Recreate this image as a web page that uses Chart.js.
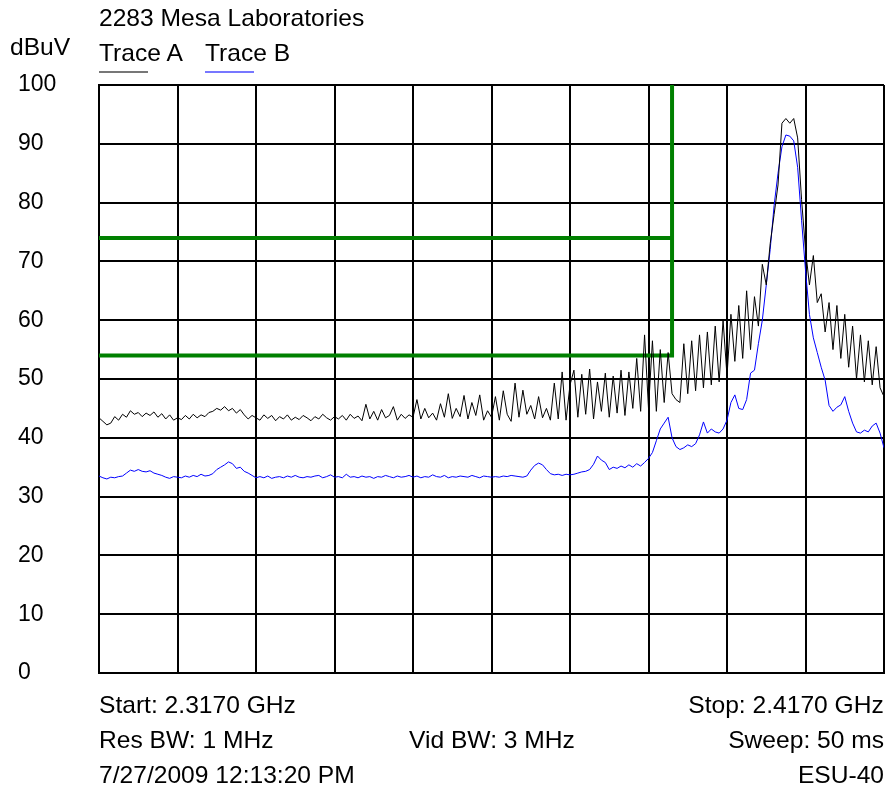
<!DOCTYPE html>
<html>
<head>
<meta charset="utf-8">
<script src="https://cdn.jsdelivr.net/npm/chart.js@4/dist/chart.umd.min.js"></script>
<style>
  html, body { margin: 0; padding: 0; background: #fff; }
  #wrap { position: relative; width: 886px; height: 787px; }
  #wrap canvas { position: absolute; left: 0; top: 0; }
  .txt { position: absolute; font: 24px "Liberation Sans", Arial, sans-serif; line-height: 1; color: #000; white-space: nowrap;
         transform: scaleX(1.025); transform-origin: left top; }
  .r { text-align: right; right: 2px; transform-origin: right top; }
  .uline { position: absolute; height: 2px; top: 71px; width: 49px; }
</style>
</head>
<body>
<div id="wrap">
  <canvas id="spectrum" width="886" height="787"></canvas>
  <div class="txt" style="left:99px; top:6px">2283 Mesa Laboratories</div>
  <div class="txt" style="left:10px; top:35px">dBuV</div>
  <div class="txt" style="left:99px; top:41px">Trace A</div>
  <div class="uline" style="left:99px; background:#777"></div>
  <div class="txt" style="left:205px; top:41px">Trace B</div>
  <div class="uline" style="left:205px; background:#7777ff"></div>
  <div class="txt" style="left:99px; top:693px">Start: 2.3170 GHz</div>
  <div class="txt r" style="top:693px">Stop: 2.4170 GHz</div>
  <div class="txt" style="left:99px; top:728px">Res BW: 1 MHz</div>
  <div class="txt" style="left:409px; top:728px">Vid BW: 3 MHz</div>
  <div class="txt r" style="top:728px">Sweep: 50 ms</div>
  <div class="txt" style="left:99px; top:763px">7/27/2009 12:13:20 PM</div>
  <div class="txt r" style="top:763px">ESU-40</div>
</div>
<script>
// sweep 2317 .. 2417 MHz, one reading every 0.5 MHz
const startMHz = 2317;
const stopMHz = 2417;
const stepMHz = 0.5;

// dBuV readings
const traceA = [
  43.4, 42.8, 42.2, 42.5, 43.6, 43.0, 44.0, 43.5, 44.6, 44.0,
  44.3, 43.6, 44.2, 43.8, 44.4, 43.5, 44.1, 43.2, 43.9, 43.0,
  43.4, 43.1, 43.8, 43.2, 44.0, 43.4, 43.9, 43.6, 44.3, 44.5,
  45.0, 44.7, 45.3, 44.6, 45.0, 44.2, 44.8, 43.9, 43.2, 43.8,
  43.4, 43.0, 43.9, 43.3, 43.8, 42.9, 43.6, 43.2, 43.9, 43.0,
  43.5, 43.1, 43.8, 43.4, 42.9, 43.6, 43.2, 44.0, 43.4, 43.0,
  43.6, 43.2, 43.8, 43.0, 44.0, 43.3, 43.7, 42.9, 45.7, 43.2,
  44.5, 43.0, 44.8, 43.4, 43.8, 45.3, 43.0, 44.0, 43.3, 43.9,
  43.5, 46.5, 43.2, 45.0, 43.4, 44.2, 43.0, 45.8, 43.5, 47.5,
  43.3, 45.0, 43.6, 47.2, 43.2, 46.0, 43.8, 47.3, 43.0, 44.6,
  43.5, 47.0, 43.0, 48.0, 44.0, 42.8, 49.3, 43.5, 48.1, 44.0,
  45.5, 43.2, 47.0, 43.4, 45.0, 43.0, 49.3, 43.2, 51.2, 43.0,
  49.0, 51.5, 43.5, 50.8, 44.0, 51.7, 43.2, 49.5, 44.5, 51.0,
  43.5, 50.5, 44.2, 51.5, 43.8, 51.2, 45.0, 53.5, 44.5, 57.5,
  45.0, 56.5, 44.5, 55.0, 46.0, 54.5, 47.5, 46.5, 46.0, 56.0,
  47.5, 56.5, 48.0, 57.5, 48.5, 58.0, 49.0, 59.0, 49.5, 60.0,
  50.5, 61.0, 53.0, 62.5, 53.5, 65.0, 55.0, 64.0, 59.0, 69.5,
  66.0, 73.0, 78.0, 83.0, 93.5, 94.3, 93.5, 94.3, 91.0, 80.5,
  72.0, 66.0, 71.0, 63.0, 64.5, 58.0, 63.0, 55.0, 62.5, 53.5,
  61.0, 52.0, 59.0, 50.0, 57.5, 49.5, 56.5, 49.0, 55.5, 48.5,
  47.0
];

const traceB = [
  33.5, 33.2, 33.0, 33.3, 33.2, 33.4, 33.5, 34.0, 34.5, 34.3,
  34.6, 34.3, 34.2, 34.4, 34.0, 33.8, 33.6, 33.3, 33.1, 33.4,
  33.3, 33.2, 33.5, 33.3, 33.6, 33.4, 33.8, 33.5, 33.6, 33.9,
  34.6, 35.0, 35.4, 35.9, 35.6, 34.8, 35.0, 34.3, 34.0, 33.6,
  33.2, 33.4, 33.2, 33.5, 33.1, 33.3, 33.4, 33.2, 33.5, 33.3,
  33.6, 33.3, 33.2, 33.4, 33.3, 33.5, 33.6, 33.2, 33.4, 33.7,
  33.3, 33.4, 33.2, 33.8, 33.3, 33.4, 33.2, 33.5, 33.3, 33.4,
  33.1, 33.4, 33.3, 33.6, 33.4, 33.2, 33.5, 33.3, 33.4, 33.6,
  33.3, 33.5, 33.2, 33.4, 33.3, 33.7, 33.4, 33.3, 33.6, 33.2,
  33.4, 33.3, 33.5, 33.4, 33.3, 33.6, 33.4, 33.2, 33.5, 33.4,
  33.3, 33.4, 33.3, 33.5, 33.4, 33.6, 33.5, 33.4, 33.3, 33.5,
  34.5, 35.3, 35.7, 35.4, 34.6, 33.9, 33.7, 33.8, 33.6, 33.8,
  33.7, 33.8, 34.0, 34.2, 34.3, 34.6, 35.5, 36.9, 36.2, 35.8,
  34.6, 35.0, 34.8, 35.2, 34.9, 35.4, 35.0, 35.6, 35.2, 35.8,
  36.5, 37.5, 39.5, 41.5, 42.5, 43.5, 40.0, 38.5, 38.0, 38.3,
  38.8, 38.5, 39.0, 40.5, 42.7, 40.8, 41.5, 41.0, 40.8, 41.5,
  43.0, 46.0, 47.3, 45.0, 44.8, 46.5, 51.0, 51.5, 56.0, 60.0,
  66.0, 72.0, 79.5, 85.0, 89.5, 91.5, 91.3, 90.5, 86.0, 77.0,
  68.5, 61.0, 57.0, 54.5, 52.0, 49.8, 45.5, 44.5, 45.2, 45.6,
  47.0, 44.5, 42.5, 41.0, 40.8, 41.3, 41.0, 42.0, 42.5, 40.8,
  38.3
];

// green limit mask
const limitEdgeMHz = 2390;
const limitHigh = 74;
const limitLow = 54;

const yMin = 0, yMax = 100, yStep = 10;

function toPoints(values) {
  return values.map((v, i) => ({ x: startMHz + i * stepMHz, y: v }));
}

new Chart(document.getElementById('spectrum'), {
  type: 'line',
  data: {
    datasets: [
      {
        label: 'Trace A',
        data: toPoints(traceA),
        borderColor: '#000',
        borderWidth: 1,
        pointRadius: 0,
        order: 1
      },
      {
        label: 'Trace B',
        data: toPoints(traceB),
        borderColor: '#0000ff',
        borderWidth: 1,
        pointRadius: 0,
        order: 2
      },
      {
        label: 'limit high',
        data: [{ x: startMHz, y: limitHigh }, { x: limitEdgeMHz, y: limitHigh }],
        borderColor: '#008000',
        borderWidth: 4,
        pointRadius: 0,
        order: 3
      },
      {
        label: 'limit low',
        data: [{ x: startMHz, y: limitLow }, { x: limitEdgeMHz, y: limitLow }, { x: limitEdgeMHz, y: yMax }],
        borderColor: '#008000',
        borderWidth: 4,
        pointRadius: 0,
        borderCapStyle: 'butt',
        order: 3
      }
    ]
  },
  options: {
    responsive: false,
    animation: false,
    layout: { padding: { left: 18, right: 2, top: 85, bottom: 114 } },
    plugins: { legend: { display: false }, tooltip: { enabled: false } },
    elements: { line: { tension: 0 } },
    scales: {
      x: {
        type: 'linear',
        min: startMHz,
        max: stopMHz,
        ticks: { display: false, stepSize: 10 },
        grid: { color: '#000', lineWidth: 2, drawTicks: false },
        border: { color: '#000', width: 2 },
        afterFit: (scale) => { scale.height = 0; }
      },
      y: {
        min: yMin,
        max: yMax,
        ticks: {
          stepSize: yStep,
          crossAlign: 'far',
          color: '#000',
          font: { family: '"Liberation Sans", Arial, sans-serif', size: 23 }
        },
        grid: { color: '#000', lineWidth: 2, drawTicks: false },
        border: { color: '#000', width: 2 },
        afterFit: (scale) => { scale.width = 81; }
      }
    }
  }
});
</script>
</body>
</html>
